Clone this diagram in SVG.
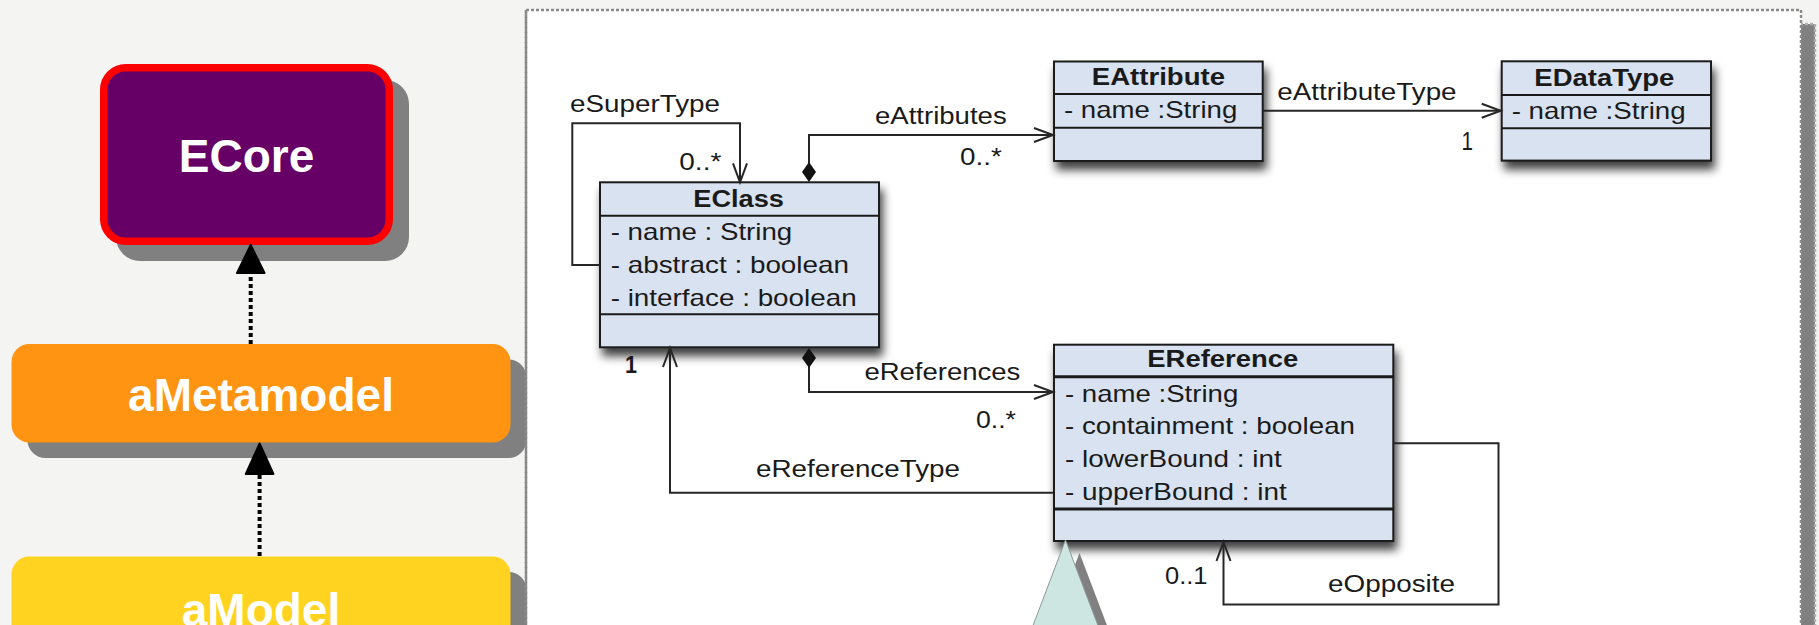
<svg xmlns="http://www.w3.org/2000/svg" width="1819" height="625" viewBox="0 0 1819 625">
  <style>
    .bg { fill: #f4f4f3; }
    .stack-shadow { fill: #808080; }
    .stack-label { font-family: "Liberation Sans", Arial, sans-serif; font-weight: bold; font-size: 46px; fill: #ffffff; text-anchor: middle; }
    .conform { fill: none; stroke: #000000; stroke-width: 4; stroke-dasharray: 4 3; }
    .conform-head { fill: #000000; stroke: #000000; stroke-width: 2; stroke-linejoin: round; }
    .frame { fill: #ffffff; stroke: #8a8a8a; stroke-width: 2.5; stroke-dasharray: 3 2; }
    .frame-shadow { fill: #808080; stroke: #b0b0b0; stroke-width: 2.5; stroke-dasharray: 3 2; }
    .cls { fill: #d9e2f1; stroke: #1a1a1a; stroke-width: 2; }
    .sep { stroke: #1a1a1a; stroke-width: 2; }
    .sep-thick { stroke: #1a1a1a; stroke-width: 3; }
    .cls-title { font-family: "Liberation Sans", Arial, sans-serif; font-weight: bold; font-size: 23.5px; fill: #1a1a1a; text-anchor: middle; }
    .cls-attr { font-family: "Liberation Sans", Arial, sans-serif; font-size: 24px; fill: #1a1a1a; }
    .role { font-family: "Liberation Sans", Arial, sans-serif; font-size: 23.5px; fill: #1a1a1a; }
    .role-big { font-size: 26px; }
    .assoc { fill: none; stroke: #262626; stroke-width: 2; }
    .diamond { fill: #111111; }
    .pointer { fill: #cde6e2; stroke: #8a9a98; stroke-width: 1; }
  </style>
  <defs>
    <marker id="openArrow" markerUnits="userSpaceOnUse" markerWidth="24" markerHeight="20" viewBox="-21 -10 24 20" refX="0" refY="0" orient="auto" overflow="visible">
      <path d="M -19 -7 L 0 0 L -19 7" fill="none" stroke="#262626" stroke-width="2"/>
    </marker>
    <filter id="clsShadow" x="-10%" y="-10%" width="130%" height="140%">
      <feDropShadow dx="3" dy="8" stdDeviation="5" flood-color="#000000" flood-opacity="0.75"/>
    </filter>
  </defs>

  <!-- page background -->
  <rect class="bg" x="0" y="0" width="1819" height="625"/>

  <!-- framed area holding the Ecore class diagram -->
  <g id="ecore-frame">
    <rect class="frame-shadow" x="540" y="24" width="1275" height="700"/>
    <rect class="frame" x="526" y="10" width="1275" height="700"/>
  </g>

  <!-- modelling stack on the left -->
  <g id="ecore">
    <rect class="stack-shadow" x="116" y="80" width="293" height="181" rx="24"/>
    <rect x="103.75" y="67.75" width="285.5" height="173.5" rx="22" fill="#660066" stroke="#ff0000" stroke-width="7.5"/>
    <text class="stack-label" x="246.5" y="172">ECore</text>
  </g>
  <g id="ametamodel">
    <rect class="stack-shadow" x="27.5" y="359.5" width="499" height="98.5" rx="18"/>
    <rect x="11.5" y="344" width="499" height="98.5" rx="18" fill="#fe9411"/>
    <text class="stack-label" x="261" y="411">aMetamodel</text>
  </g>
  <g id="amodel">
    <rect class="stack-shadow" x="27.5" y="572" width="499" height="120" rx="18"/>
    <rect x="11.5" y="556.5" width="499" height="120" rx="18" fill="#ffd320"/>
    <text class="stack-label" x="261" y="626">aModel</text>
  </g>
  <g id="conformance">
    <line class="conform" x1="250.7" y1="344" x2="250.7" y2="273"/>
    <polygon class="conform-head" points="250.7,245 237,273 264.5,273"/>
    <line class="conform" x1="259.6" y1="556" x2="259.6" y2="474"/>
    <polygon class="conform-head" points="259.6,443.5 245.8,474 273.4,474"/>
  </g>
  <!-- frame border on top of the stack shadows -->
  <line x1="526" y1="10" x2="526" y2="625" stroke="#8a8a8a" stroke-width="2.5" stroke-dasharray="3 2"/>

  <!-- classes -->
  <g id="eclass">
    <rect class="cls" x="600" y="182.3" width="279" height="165" filter="url(#clsShadow)"/>
    <line class="sep" x1="600" y1="215.7" x2="879" y2="215.7"/>
    <line class="sep" x1="600" y1="314.3" x2="879" y2="314.3"/>
    <text class="cls-title" x="738.6" y="206.7" textLength="90.7" lengthAdjust="spacingAndGlyphs">EClass</text>
    <text class="cls-attr" x="610.7" y="240" textLength="181.6" lengthAdjust="spacingAndGlyphs">- name : String</text>
    <text class="cls-attr" x="610.7" y="273" textLength="238.3" lengthAdjust="spacingAndGlyphs">- abstract : boolean</text>
    <text class="cls-attr" x="610.7" y="305.5" textLength="246" lengthAdjust="spacingAndGlyphs">- interface : boolean</text>
  </g>
  <g id="eattribute">
    <rect class="cls" x="1054" y="61.5" width="208.7" height="99.5" filter="url(#clsShadow)"/>
    <line class="sep" x1="1054" y1="94" x2="1262.7" y2="94"/>
    <line class="sep" x1="1054" y1="127.7" x2="1262.7" y2="127.7"/>
    <text class="cls-title" x="1158.4" y="85" textLength="133.3" lengthAdjust="spacingAndGlyphs">EAttribute</text>
    <text class="cls-attr" x="1064" y="118.3" textLength="173.3" lengthAdjust="spacingAndGlyphs">- name :String</text>
  </g>
  <g id="edatatype">
    <rect class="cls" x="1501.7" y="61.3" width="209.3" height="99.3" filter="url(#clsShadow)"/>
    <line class="sep" x1="1501.7" y1="94.9" x2="1711" y2="94.9"/>
    <line class="sep" x1="1501.7" y1="128.3" x2="1711" y2="128.3"/>
    <text class="cls-title" x="1604.3" y="85.7" textLength="140" lengthAdjust="spacingAndGlyphs">EDataType</text>
    <text class="cls-attr" x="1511.7" y="119.3" textLength="174" lengthAdjust="spacingAndGlyphs">- name :String</text>
  </g>
  <g id="ereference">
    <rect class="cls" x="1054" y="344.7" width="339.3" height="196.3" filter="url(#clsShadow)"/>
    <line class="sep-thick" x1="1054" y1="376.7" x2="1393.3" y2="376.7"/>
    <line class="sep-thick" x1="1054" y1="509" x2="1393.3" y2="509"/>
    <text class="cls-title" x="1222.8" y="366.7" textLength="151" lengthAdjust="spacingAndGlyphs">EReference</text>
    <text class="cls-attr" x="1065" y="401.7" textLength="173.3" lengthAdjust="spacingAndGlyphs">- name :String</text>
    <text class="cls-attr" x="1065" y="434.3" textLength="290" lengthAdjust="spacingAndGlyphs">- containment : boolean</text>
    <text class="cls-attr" x="1065" y="467.3" textLength="216.7" lengthAdjust="spacingAndGlyphs">- lowerBound : int</text>
    <text class="cls-attr" x="1065" y="500.3" textLength="221.7" lengthAdjust="spacingAndGlyphs">- upperBound : int</text>
  </g>

  <!-- associations -->
  <g id="associations">
    <path class="assoc" d="M 600 265 H 572.3 V 123.3 H 740 V 182.3" marker-end="url(#openArrow)"/>
    <path class="assoc" d="M 809 163 V 135 H 1053" marker-end="url(#openArrow)"/>
    <path class="diamond" d="M 809 162 L 816 172 L 809 182 L 802 172 Z"/>
    <path class="assoc" d="M 1262.7 110.7 H 1500.7" marker-end="url(#openArrow)"/>
    <path class="assoc" d="M 809 366 V 392 H 1053" marker-end="url(#openArrow)"/>
    <path class="diamond" d="M 809 348 L 816 358 L 809 368 L 802 358 Z"/>
    <path class="assoc" d="M 1054 492.7 H 670 V 348" marker-end="url(#openArrow)"/>
    <path class="assoc" d="M 1393.3 443.3 H 1498.5 V 604.5 H 1223.5 V 542" marker-end="url(#openArrow)"/>

    <text class="role" x="570" y="111.7" textLength="150" lengthAdjust="spacingAndGlyphs">eSuperType</text>
    <text class="role" x="679.3" y="170" textLength="42" lengthAdjust="spacingAndGlyphs">0..*</text>
    <text class="role" x="875" y="124" textLength="131.7" lengthAdjust="spacingAndGlyphs">eAttributes</text>
    <text class="role" x="960" y="165" textLength="41.7" lengthAdjust="spacingAndGlyphs">0..*</text>
    <text class="role" x="1277.3" y="100" textLength="179.3" lengthAdjust="spacingAndGlyphs">eAttributeType</text>
    <text class="role role-big" x="1461.5" y="150" textLength="11.5" lengthAdjust="spacingAndGlyphs">1</text>
    <text class="role" x="864.4" y="380" textLength="156" lengthAdjust="spacingAndGlyphs">eReferences</text>
    <text class="role" x="976" y="428.3" textLength="40" lengthAdjust="spacingAndGlyphs">0..*</text>
    <text class="role" x="756" y="476.7" textLength="204" lengthAdjust="spacingAndGlyphs">eReferenceType</text>
    <text class="role" x="625" y="372.7" font-weight="bold" textLength="12" lengthAdjust="spacingAndGlyphs">1</text>
    <text class="role" x="1165" y="584" textLength="42.5" lengthAdjust="spacingAndGlyphs">0..1</text>
    <text class="role" x="1328" y="591.7" textLength="127" lengthAdjust="spacingAndGlyphs">eOpposite</text>
  </g>

  <!-- callout pointer below EReference -->
  <g id="callout-pointer">
    <polygon class="stack-shadow" points="1079.5,553 1018.7,713 1140.3,713"/>
    <polygon class="pointer" points="1065.5,540 1004.7,700 1126.3,700"/>
  </g>
</svg>
